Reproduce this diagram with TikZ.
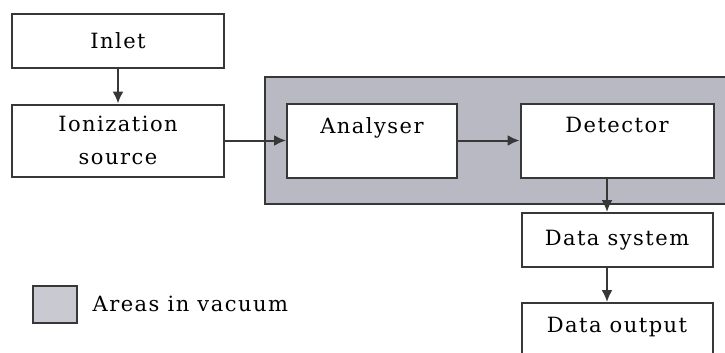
\documentclass[tikz,border=0pt]{standalone}
\usepackage{fontspec}
\setmainfont[LetterSpace=7]{DejaVu Serif}
\usetikzlibrary{positioning, arrows.meta}

\definecolor{vacuumgray}{RGB}{185,185,196}
\definecolor{legendgray}{RGB}{201,201,209}
\definecolor{edgegray}{RGB}{55,55,55}

\tikzset{
    stagebox/.style={draw=edgegray, line width=2pt, fill=white, inner sep=0pt,
        align=center, font=\fontsize{21}{33}\selectfont},
    flow/.style={-{Latex[length=12pt,width=11pt]}, line width=2pt, draw=edgegray}
}

\begin{document}
\begin{tikzpicture}[x=1pt, y=-1pt]
        \useasboundingbox (0,0) rectangle (725,353);
        % ==== VACUUM AREA ====
        \draw[draw=edgegray, line width=2pt, fill=vacuumgray] (265,77) rectangle (745,204);
        % ==== STAGES ====
        \node[stagebox, minimum width=212pt, minimum height=54pt] (inlet) at (118,41) {Inlet};
        \node[stagebox, minimum width=212pt, minimum height=72pt] (ionsrc) at (118,140.5) {Ionization\\source};
        \node[stagebox, minimum width=170pt, minimum height=74pt] (analyser) at (372,140.5) {Analyser\\[-12pt]\strut};
        \node[stagebox, minimum width=193pt, minimum height=74pt] (detector) at (617,140.5) {Detector\\[-12pt]\strut};
        \node[stagebox, minimum width=191pt, minimum height=54pt] (datasys) at (617,240) {Data system};
        \node[stagebox, minimum width=191pt, minimum height=72pt] (dataout) at (617,339) {Data output\\[-14pt]\strut};
        % ==== CONNECTORS ====
        \draw[flow] (inlet) -- (ionsrc);
        \draw[flow] (ionsrc) -- (analyser);
        \draw[flow] (analyser) -- (detector);
        \draw[flow] ([xshift=-10pt]detector.south) -- ([xshift=-10pt]datasys.north);
        \draw[flow] ([xshift=-10pt]datasys.south) -- ([xshift=-10pt]dataout.north);
        % ==== LEGEND ====
        \node[draw=edgegray, line width=2pt, fill=legendgray, minimum width=44pt, minimum height=37pt, inner sep=0pt] (legbox) at (54.5,304) {};
        \node[right=15pt of legbox, inner sep=0pt, font=\fontsize{21}{24}\selectfont] (legtext) {Areas in vacuum};
     \end{tikzpicture}
\end{document}
